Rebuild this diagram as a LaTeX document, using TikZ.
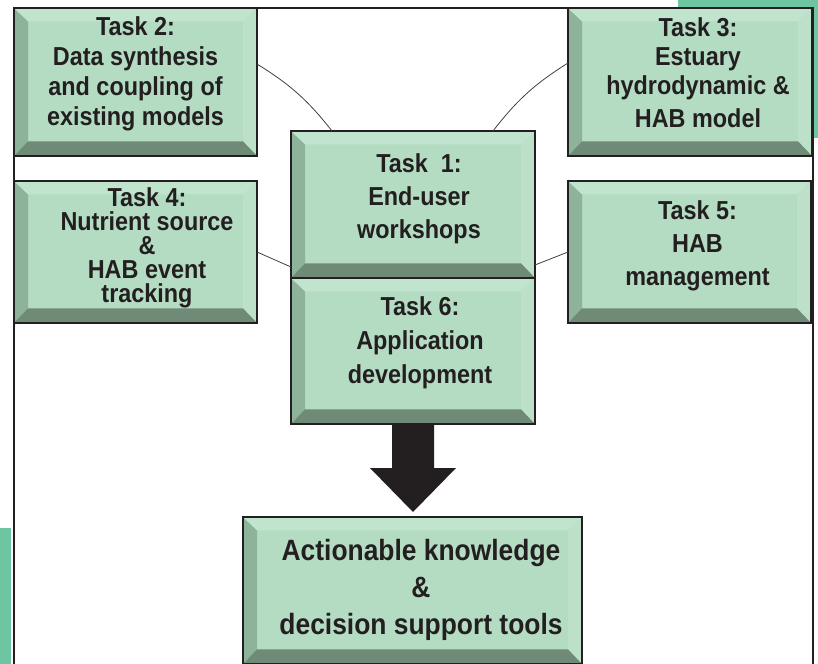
\documentclass[tikz,border=0pt]{standalone}
\usepackage{fontspec}
\setsansfont{Liberation Sans}[FakeStretch=0.9]
\usepackage{xcolor}
\usepackage{tikz}
\usetikzlibrary{calc}
\usetikzlibrary{positioning}

\definecolor{facegreen}{HTML}{B4DCC3}
\definecolor{leftgreen}{HTML}{8DB39B}
\definecolor{bottomgreen}{HTML}{6F8B78}
\definecolor{topgreen}{HTML}{C1E4CE}
\definecolor{rightgreen}{HTML}{BDE0C9}
\definecolor{stripgreen}{HTML}{6DC5A1}
\definecolor{edgeblack}{HTML}{231F20}

\begin{document}
\begin{tikzpicture}[x=0.75pt,y=-0.75pt,
                    task node/.style={draw=edgeblack,line width=1.8pt,fill=facegreen,inner sep=0pt,outer sep=0pt,
                       minimum width=182.25pt,minimum height=111pt,
                       path picture={
                         \fill[leftgreen] (path picture bounding box.north west) -- ([xshift=10.5pt,yshift=-10pt]path picture bounding box.north west)
                            -- ([xshift=10.5pt,yshift=11pt]path picture bounding box.south west) -- (path picture bounding box.south west) -- cycle;
                         \fill[topgreen] (path picture bounding box.north west) -- (path picture bounding box.north east)
                            -- ([xshift=-10.5pt,yshift=-10pt]path picture bounding box.north east) -- ([xshift=10.5pt,yshift=-10pt]path picture bounding box.north west) -- cycle;
                         \fill[rightgreen] (path picture bounding box.north east) -- (path picture bounding box.south east)
                            -- ([xshift=-10.5pt,yshift=11pt]path picture bounding box.south east) -- ([xshift=-10.5pt,yshift=-10pt]path picture bounding box.north east) -- cycle;
                         \fill[bottomgreen] (path picture bounding box.south west) -- ([xshift=10.5pt,yshift=11pt]path picture bounding box.south west)
                            -- ([xshift=-10.5pt,yshift=11pt]path picture bounding box.south east) -- (path picture bounding box.south east) -- cycle;
                       }},
                    task text/.style={font=\sffamily\bfseries\fontsize{19.5}{#1}\selectfont,align=center,text=edgeblack,inner sep=0pt},
                    task text/.default=22.5,
                    link/.style={draw=black!75,line width=0.6pt},
                    frame line/.style={draw=edgeblack,line width=1.5pt}]

\useasboundingbox (0,0) rectangle (818,664);
\clip (0,0) rectangle (818,664);
\fill[white] (0,0) rectangle (818,664);

%Green strips at the edges
\fill[stripgreen] (678,0) rectangle (818,8);
\fill[stripgreen] (814,0) rectangle (818,138);
\fill[stripgreen] (0,528) rectangle (11,664);

%Outer frame
\draw[frame line] (14,8) rectangle (813,700);

%Task boxes
\node[task node] (t2) at (135.5,82) {};
\node[task node,minimum width=183pt] (t3) at (690,82) {};
\node[task node,minimum height=106.5pt] (t4) at (135.5,252) {};
\node[task node,minimum height=106.5pt] (t5) at (689.5,252) {};

\node[task node,minimum width=183pt,minimum height=110.25pt] (t1) at (413,204.5) {};
\node[task node,minimum width=183pt,minimum height=109.5pt,below=0pt of t1] (t6) {};
\node[task node,minimum width=254.25pt,minimum height=110.25pt] (tools) at (412.5,590.5) {};

%Big arrow
\fill[edgeblack] ($(t6.south)+(-21,0)$) -- ($(t6.south)+(21,0)$) -- ($(t6.south)+(21,44)$) -- ($(t6.south)+(43,44)$)
   -- ($(tools.north)+(0.5,-5)$) -- ($(t6.south)+(-43,44)$) -- ($(t6.south)+(-21,44)$) -- cycle;

%Links to task 1
\draw[link] ($(t2.east)+(0,-18)$) to[bend left=10] ($(t1.north)+(-81,0)$);
\draw[link] ($(t3.west)+(0,-19)$) to[bend right=10] ($(t1.north)+(80,0)$);
\draw[link] (t4.east) -- ($(t1.south west)+(0,-11)$);
\draw[link] (t5.west) -- ($(t1.south east)+(0,-13)$);

%Task labels
\node[task text] (t2label) at ($(t2)+(0,-8)$) {Task 2:\\Data synthesis\\and coupling of\\existing models};
\node[task text=21.75] (t3label) at ($(t3)+(8,-9)$) {Task 3:\\Estuary\\hydrodynamic \&\\[3pt]HAB model};
\node[task text=18] (t4label) at ($(t4)+(11.5,-4.5)$) {Task 4:\\Nutrient source\\\&\\HAB event\\tracking};
\node[task text=24.75] (t5label) at ($(t5)+(8,-6.5)$) {Task 5:\\HAB\\management};
\node[task text=24.75] (t1label) at ($(t1)+(6,-5.5)$) {Task\ \ 1:\\End-user\\workshops};
\node[task text=25.5] (t6label) at ($(t6)+(7,-8.5)$) {Task 6:\\Application\\development};
\node[task text=27.5,font=\sffamily\bfseries\fontsize{22}{27.5}\selectfont] (toolslabel) at ($(tools)+(8.5,-0.5)$) {Actionable knowledge\\\&\\decision support tools};

\end{tikzpicture}
\end{document}
